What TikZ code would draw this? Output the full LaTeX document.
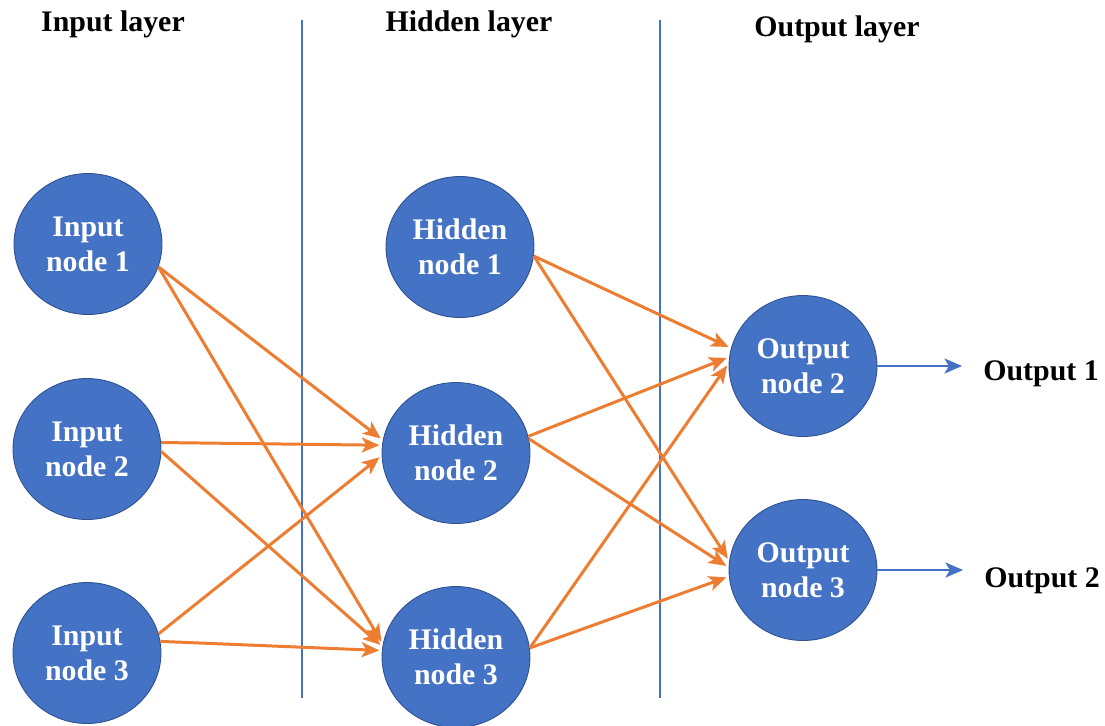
\documentclass[tikz,border=0pt]{standalone}
\usepackage{fontspec}
\setmainfont{Liberation Serif}
\usepackage{xcolor}
\usetikzlibrary{arrows.meta,shapes.geometric}
\definecolor{nodeblue}{RGB}{68,114,196}
\definecolor{rimblue}{RGB}{47,82,143}
\definecolor{wireorange}{RGB}{237,125,49}
\newcommand{\labfont}{\bfseries\fontsize{17}{20}\selectfont}

\begin{document}
\begin{tikzpicture}[x=0.02cm,y=-0.02cm,
    main/.style = {ellipse, draw=rimblue, line width=0.5pt, fill=nodeblue, text=white,
      minimum width=2.96cm, minimum height=2.82cm, inner sep=0pt, align=center, font=\labfont},
    head/.style = {anchor=base, inner sep=0pt, font=\labfont},
    outlab/.style = {anchor=base west, inner sep=0pt, font=\labfont},
    wire/.style = {draw=wireorange, line width=1.7pt, shorten >=1.5pt,
      -{Stealth[length=10pt,width=8.5pt,inset=2.5pt]}},
    feed/.style = {draw=nodeblue, line width=1.6pt, shorten >=11.9pt,
      -{Stealth[length=10pt,width=8.5pt,inset=2.5pt]}},
    divider/.style = {draw=nodeblue, line width=0.8pt}]
        \useasboundingbox (0,0) rectangle (1105,725);

        % layer titles and dividers
        \node[head](t1) at (113,31){Input layer};
        \node[head](t2) at (469,31){Hidden layer};
        \node[head](t3) at (837,36){Output layer};
        \draw[divider] (302,20) -- (302,698);
        \draw[divider] (660,20) -- (660,698);

        \node[main](i1) at (88,244){Input\\node 1};
        \node[main](i2) at (87,449){Input\\node 2};
        \node[main](i3) at (87,653){Input\\node 3};
        \node[main](h1) at (460,247){Hidden\\node 1};
        \node[main](h2) at (456,453){Hidden\\node 2};
        \node[main](h3) at (456,657){Hidden\\node 3};
        \node[main](o2) at (803,366){Output\\node 2};
        \node[main](o3) at (803,570){Output\\node 3};

        \node[outlab](l1) at (983,380){Output 1};
        \node[outlab](l2) at (984,587){Output 2};

        \path[every edge/.style={wire}]
        (i1.-18) edge (h2.170)
        (i1.-18) edge (h3.170)
        (i2.5) edge (h2.174)
        (i2.-2) edge (h3.172)
        (i3.15) edge (h2.182)
        (i3.9) edge (h3.175)
        (h1.-7) edge (o2.166)
        (h1.-7) edge (o3.173)
        (h2.13) edge (o2.173)
        (h2.11) edge (o3.178)
        (h3.7) edge (o2.178)
        (h3.7) edge (o3.185)
        ;

        \path[every edge/.style={feed}]
        (o2.east) edge (o2.east -| l1.west)
        (o3.east) edge (o3.east -| l2.west)
        ;
      \end{tikzpicture}
\end{document}
